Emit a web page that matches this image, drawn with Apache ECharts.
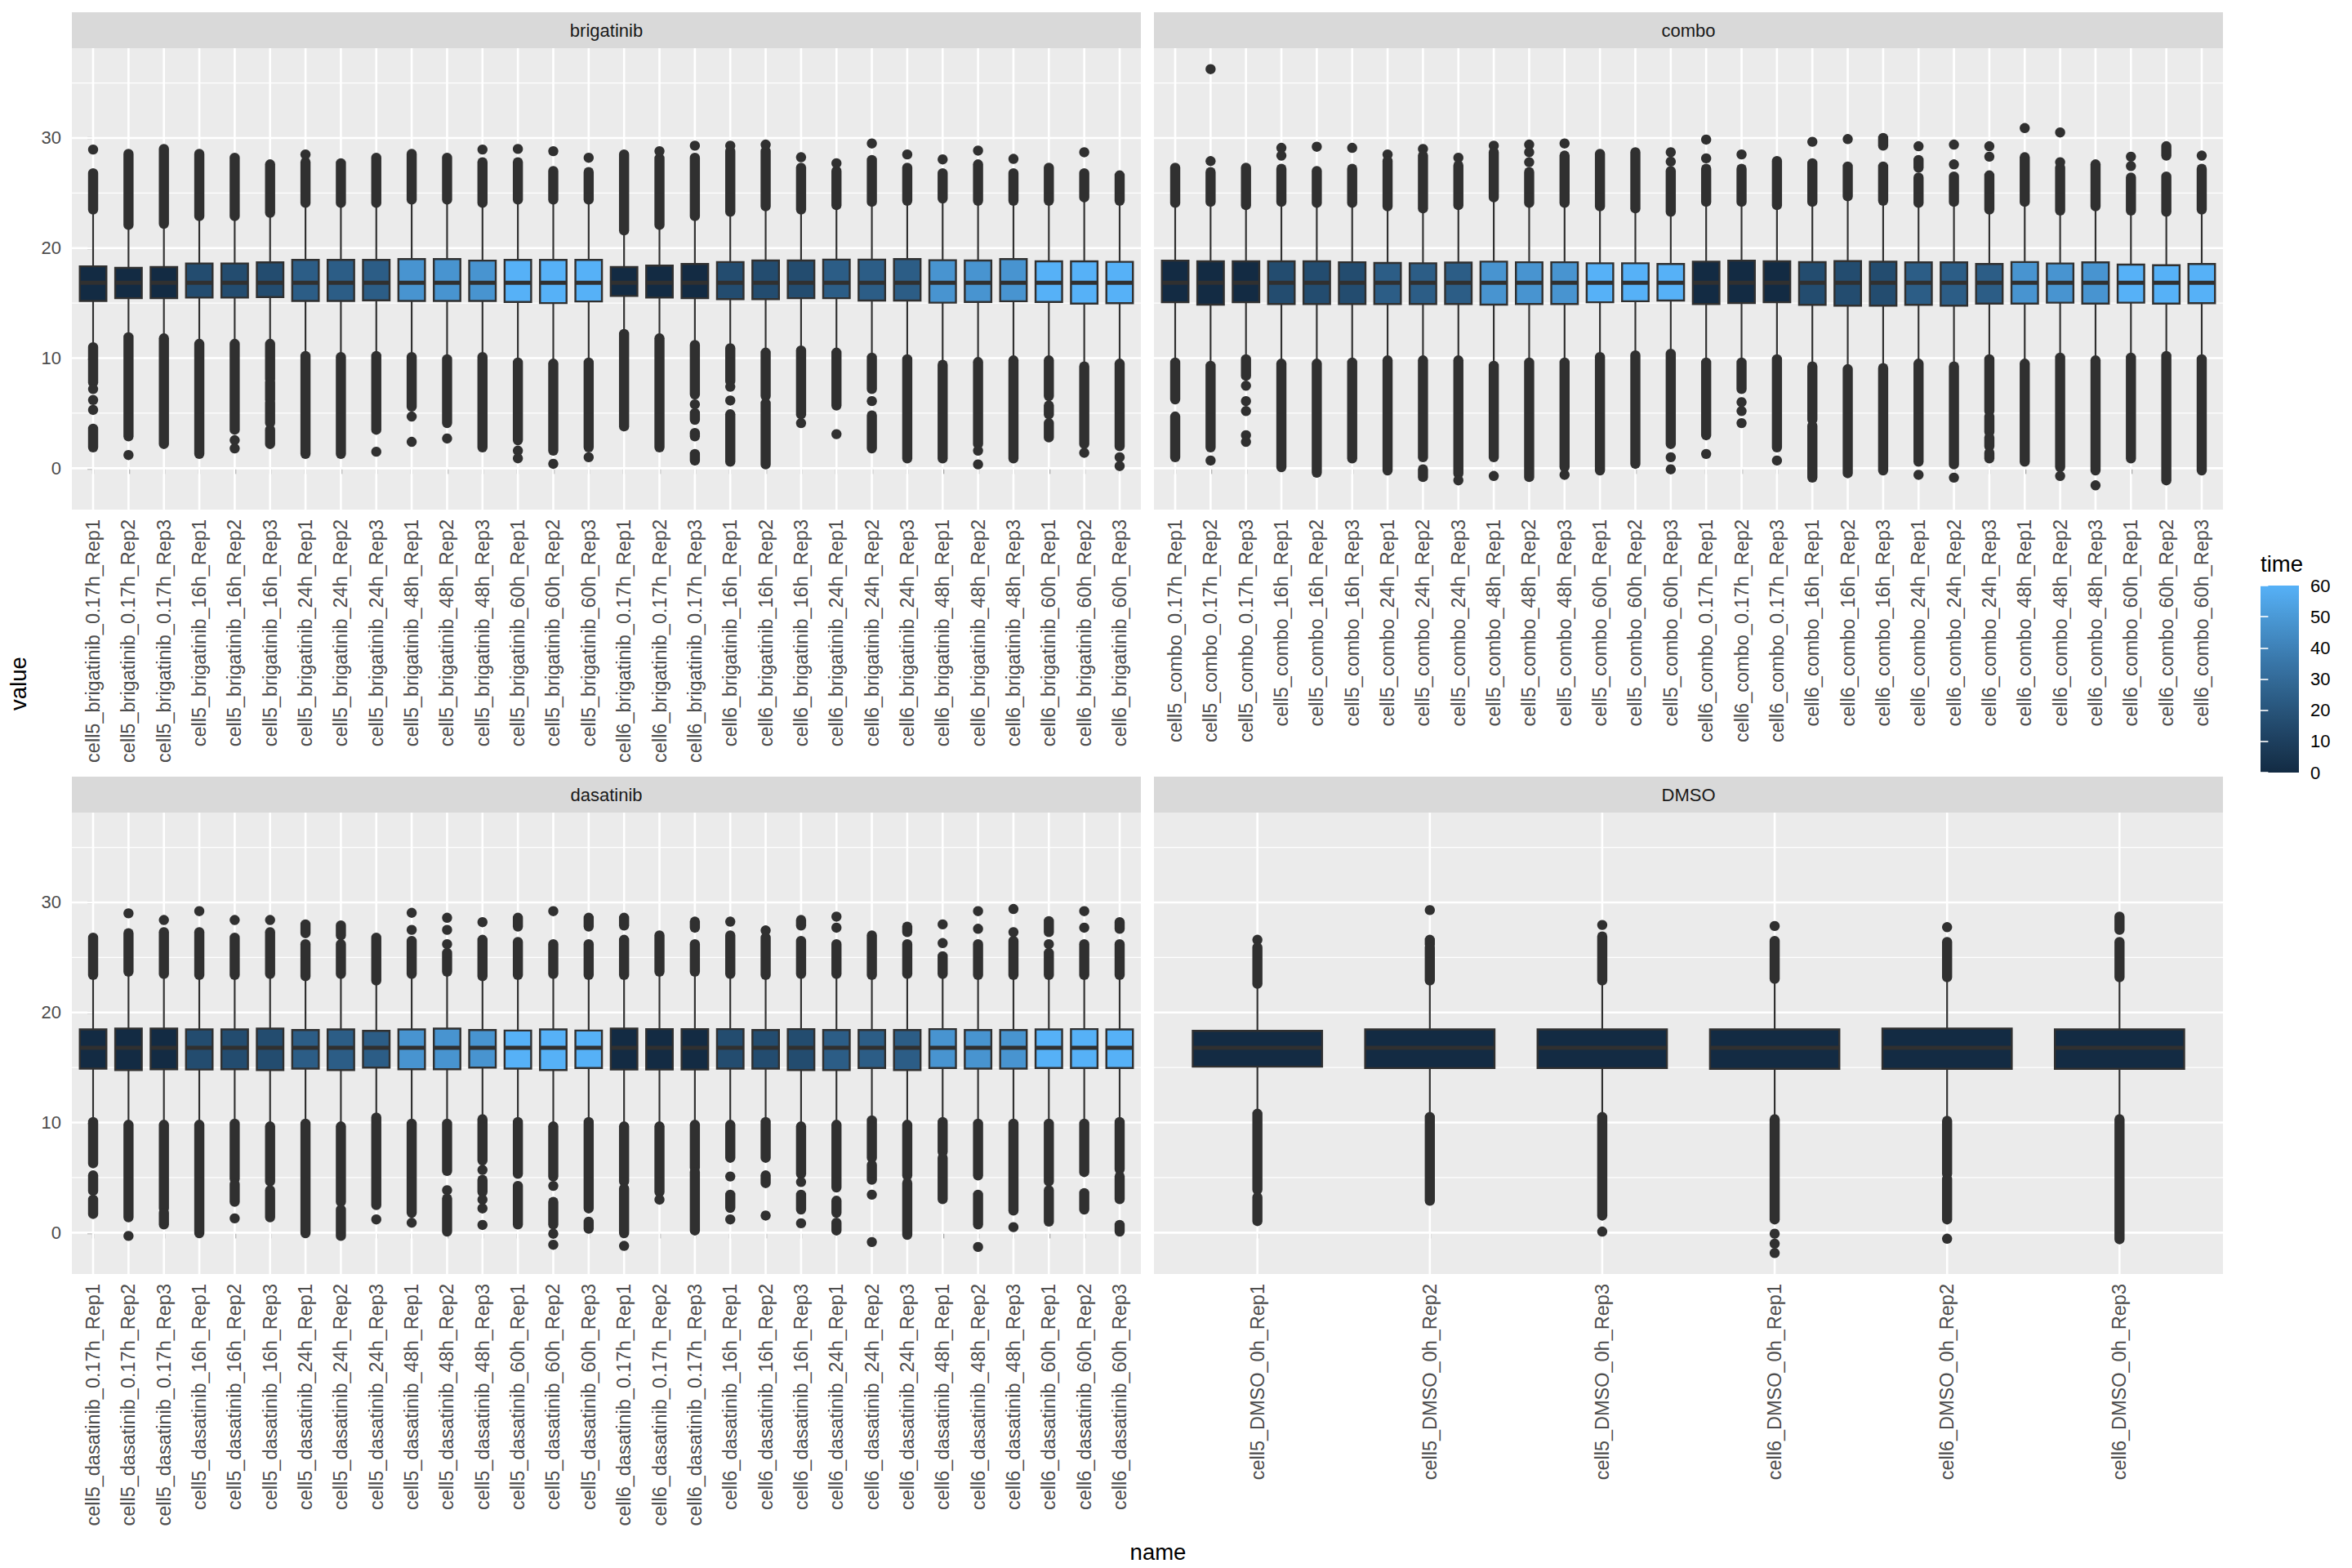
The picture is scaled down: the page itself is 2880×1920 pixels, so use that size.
<!DOCTYPE html>
<html><head><meta charset="utf-8">
<script src="https://cdn.jsdelivr.net/npm/echarts@6/dist/echarts.min.js"></script>
<style>html,body{margin:0;padding:0;background:#fff}#c{width:2880px;height:1920px}</style>
</head><body><div id="c"></div><script>
// ---------------- DATA ----------------
const brigNames = ['cell5_brigatinib_0.17h_Rep1','cell5_brigatinib_0.17h_Rep2','cell5_brigatinib_0.17h_Rep3','cell5_brigatinib_16h_Rep1','cell5_brigatinib_16h_Rep2','cell5_brigatinib_16h_Rep3','cell5_brigatinib_24h_Rep1','cell5_brigatinib_24h_Rep2','cell5_brigatinib_24h_Rep3','cell5_brigatinib_48h_Rep1','cell5_brigatinib_48h_Rep2','cell5_brigatinib_48h_Rep3','cell5_brigatinib_60h_Rep1','cell5_brigatinib_60h_Rep2','cell5_brigatinib_60h_Rep3','cell6_brigatinib_0.17h_Rep1','cell6_brigatinib_0.17h_Rep2','cell6_brigatinib_0.17h_Rep3','cell6_brigatinib_16h_Rep1','cell6_brigatinib_16h_Rep2','cell6_brigatinib_16h_Rep3','cell6_brigatinib_24h_Rep1','cell6_brigatinib_24h_Rep2','cell6_brigatinib_24h_Rep3','cell6_brigatinib_48h_Rep1','cell6_brigatinib_48h_Rep2','cell6_brigatinib_48h_Rep3','cell6_brigatinib_60h_Rep1','cell6_brigatinib_60h_Rep2','cell6_brigatinib_60h_Rep3'];
const comboNames = ['cell5_combo_0.17h_Rep1','cell5_combo_0.17h_Rep2','cell5_combo_0.17h_Rep3','cell5_combo_16h_Rep1','cell5_combo_16h_Rep2','cell5_combo_16h_Rep3','cell5_combo_24h_Rep1','cell5_combo_24h_Rep2','cell5_combo_24h_Rep3','cell5_combo_48h_Rep1','cell5_combo_48h_Rep2','cell5_combo_48h_Rep3','cell5_combo_60h_Rep1','cell5_combo_60h_Rep2','cell5_combo_60h_Rep3','cell6_combo_0.17h_Rep1','cell6_combo_0.17h_Rep2','cell6_combo_0.17h_Rep3','cell6_combo_16h_Rep1','cell6_combo_16h_Rep2','cell6_combo_16h_Rep3','cell6_combo_24h_Rep1','cell6_combo_24h_Rep2','cell6_combo_24h_Rep3','cell6_combo_48h_Rep1','cell6_combo_48h_Rep2','cell6_combo_48h_Rep3','cell6_combo_60h_Rep1','cell6_combo_60h_Rep2','cell6_combo_60h_Rep3'];
const dasaNames = ['cell5_dasatinib_0.17h_Rep1','cell5_dasatinib_0.17h_Rep2','cell5_dasatinib_0.17h_Rep3','cell5_dasatinib_16h_Rep1','cell5_dasatinib_16h_Rep2','cell5_dasatinib_16h_Rep3','cell5_dasatinib_24h_Rep1','cell5_dasatinib_24h_Rep2','cell5_dasatinib_24h_Rep3','cell5_dasatinib_48h_Rep1','cell5_dasatinib_48h_Rep2','cell5_dasatinib_48h_Rep3','cell5_dasatinib_60h_Rep1','cell5_dasatinib_60h_Rep2','cell5_dasatinib_60h_Rep3','cell6_dasatinib_0.17h_Rep1','cell6_dasatinib_0.17h_Rep2','cell6_dasatinib_0.17h_Rep3','cell6_dasatinib_16h_Rep1','cell6_dasatinib_16h_Rep2','cell6_dasatinib_16h_Rep3','cell6_dasatinib_24h_Rep1','cell6_dasatinib_24h_Rep2','cell6_dasatinib_24h_Rep3','cell6_dasatinib_48h_Rep1','cell6_dasatinib_48h_Rep2','cell6_dasatinib_48h_Rep3','cell6_dasatinib_60h_Rep1','cell6_dasatinib_60h_Rep2','cell6_dasatinib_60h_Rep3'];
const dmsoNames = ['cell5_DMSO_0h_Rep1','cell5_DMSO_0h_Rep2','cell5_DMSO_0h_Rep3','cell6_DMSO_0h_Rep1','cell6_DMSO_0h_Rep2','cell6_DMSO_0h_Rep3'];

const drugTime = [0.17,0.17,0.17,16,16,16,24,24,24,48,48,48,60,60,60,0.17,0.17,0.17,16,16,16,24,24,24,48,48,48,60,60,60];
const dmsoTime = [0,0,0,0,0,0];

// brigatinib
const brigLo  = [11.2,12.1,12.0,11.5,11.5,11.5,10.4,10.3,10.4,10.3,10.1,10.3,9.8,9.7,9.8,12.4,12.0,11.4,11.1,10.7,10.9,10.7,10.25,10.1,9.6,9.85,10.0,10.0,9.45,9.7];
const brigQ1  = [15.2,15.45,15.45,15.5,15.5,15.55,15.2,15.2,15.25,15.2,15.2,15.2,15.1,15.0,15.15,15.65,15.5,15.45,15.36,15.36,15.45,15.45,15.23,15.23,15.04,15.1,15.17,15.1,14.96,14.99];
const brigMed = [16.85,16.85,16.85,16.85,16.85,16.85,16.85,16.85,16.85,16.85,16.85,16.85,16.85,16.85,16.85,16.85,16.85,16.85,16.85,16.85,16.85,16.85,16.85,16.85,16.85,16.85,16.85,16.85,16.85,16.85];
const brigQ3  = [18.34,18.2,18.28,18.6,18.6,18.7,18.92,18.92,18.92,19.0,19.0,18.86,18.92,18.92,18.92,18.28,18.4,18.55,18.73,18.87,18.87,18.95,18.95,19.0,18.9,18.87,19.0,18.8,18.8,18.75];
const brigHi  = [23.3,21.9,22.0,22.7,22.7,23.0,23.9,23.9,23.9,24.2,24.2,23.9,24.2,24.2,24.2,21.4,21.9,22.7,23.1,23.6,23.3,23.7,24.0,24.1,24.3,24.1,24.1,24.1,24.4,24.1];
// outliers: [a,b] = dense run of points from a to b, [v] = single point
const brigOut = [
 [[23.5,26.8],[28.95],[7.8,11.0],[7.2],[6.2],[5.3],[1.9,3.6]],
 [[22.1,28.55],[2.9,11.9],[1.2]],
 [[22.2,29.0],[2.2,11.8]],
 [[22.9,28.55],[1.3,11.3]],
 [[22.9,28.2],[3.5,11.3],[2.55],[1.8]],
 [[23.2,27.6],[8.1,11.3],[6.2,7.8],[4.1,5.9],[2.2,3.5]],
 [[24.1,27.8],[28.5],[1.3,10.2]],
 [[24.1,27.7],[1.3,10.1]],
 [[24.1,28.2],[3.5,10.2],[1.5]],
 [[24.4,28.55],[5.6,10.1],[4.7],[2.4]],
 [[24.4,28.2],[4.1,9.9],[2.7]],
 [[24.1,27.8],[28.95],[1.9,10.1]],
 [[24.4,27.8],[29.0],[2.55,9.6],[1.6],[0.9]],
 [[24.4,27.0],[28.8],[1.6,9.5],[0.4]],
 [[24.4,26.9],[28.2],[1.9,9.6],[1.0]],
 [[21.6,28.5],[3.8,12.2]],
 [[22.1,28.15],[28.8],[1.9,11.8]],
 [[22.9,28.2],[29.3],[6.7,11.2],[5.8],[4.4,5.0],[2.9,3.2],[0.7,1.3]],
 [[23.3,28.8],[29.3],[7.9,10.9],[7.4],[6.15],[0.6,4.9]],
 [[23.8,28.8],[29.4],[6.55,10.5],[0.35,5.9]],
 [[23.5,27.3],[28.25],[4.9,10.7],[4.1]],
 [[23.9,27.0],[27.7],[5.7,10.5],[3.1]],
 [[24.2,28.0],[29.5],[7.2,10.05],[6.1],[1.8,4.8]],
 [[24.3,27.3],[28.5],[0.9,9.9]],
 [[24.5,26.8],[28.05],[0.9,9.4]],
 [[24.3,27.6],[28.85],[2.2,9.65],[1.6],[0.35]],
 [[24.3,26.8],[28.1],[0.9,9.8]],
 [[24.3,27.3],[6.55,9.8],[4.9,5.7],[2.8,4.1]],
 [[24.6,26.8],[28.7],[2.2,9.25],[1.4]],
 [[24.3,26.6],[2.0,9.5],[1.0],[0.2]]
];

// combo
const comboLo  = [9.8,9.5,10.1,9.7,9.7,9.8,10.0,10.0,10.0,9.5,9.8,9.8,10.3,10.45,10.6,9.8,9.8,10.1,9.45,9.2,9.3,9.7,9.45,10.1,9.7,10.25,10.0,10.25,10.4,10.1];
const comboQ1  = [15.08,14.86,15.08,14.92,14.92,14.92,14.92,14.92,14.92,14.86,14.92,14.92,15.08,15.17,15.23,14.92,15.0,15.08,14.85,14.77,14.77,14.85,14.77,14.96,14.96,15.04,14.96,15.04,14.96,14.99];
const comboMed = [16.85,16.85,16.85,16.85,16.85,16.85,16.85,16.85,16.85,16.85,16.85,16.85,16.85,16.85,16.85,16.85,16.85,16.85,16.85,16.85,16.85,16.85,16.85,16.85,16.85,16.85,16.85,16.85,16.85,16.85];
const comboQ3  = [18.86,18.8,18.8,18.8,18.8,18.71,18.65,18.62,18.68,18.77,18.71,18.71,18.62,18.62,18.55,18.77,18.86,18.8,18.72,18.81,18.76,18.7,18.7,18.55,18.73,18.6,18.7,18.5,18.44,18.55];
const comboHi  = [23.9,24.0,23.7,24.0,23.9,23.9,23.6,23.4,23.7,24.4,23.9,23.9,23.6,23.4,23.1,24.0,24.0,23.7,24.0,24.5,24.1,23.9,24.0,23.3,24.0,23.2,23.6,23.2,23.1,23.3];
const comboOut = [
 [[24.1,27.3],[6.25,9.6],[1.0,4.7]],
 [[36.25],[27.9],[24.2,26.9],[1.9,9.3],[0.7]],
 [[23.9,27.3],[8.4,9.9],[7.5],[6.1],[5.2],[3.0],[2.4]],
 [[29.1],[28.4],[24.2,27.2],[0.1,9.5]],
 [[29.2],[24.1,27.0],[-0.4,9.5]],
 [[29.1],[24.1,27.2],[0.9,9.6]],
 [[28.5],[23.8,27.9],[-0.2,9.8]],
 [[29.0],[23.6,28.4],[1.0,9.8],[-0.8,-0.1]],
 [[28.2],[23.9,27.5],[-0.5,9.8],[-1.1]],
 [[29.3],[24.6,28.7],[1.0,9.3],[-0.7]],
 [[29.4],[28.7],[27.8],[24.1,26.9],[-0.8,9.6]],
 [[29.5],[24.1,28.4],[0.1,9.6],[-0.6]],
 [[23.8,28.55],[-0.2,10.1]],
 [[23.6,28.7],[0.4,10.25]],
 [[28.7],[27.85],[23.3,27.0],[2.2,10.4],[1.0],[-0.1]],
 [[29.85],[28.15],[24.2,27.2],[3.0,9.6],[1.3]],
 [[28.5],[24.2,27.2],[7.2,9.6],[6.0],[5.2],[4.1]],
 [[23.9,27.9],[1.9,9.9],[0.7]],
 [[29.65],[24.2,27.7],[4.4,9.25],[-0.85,3.85]],
 [[29.9],[24.7,27.4],[-0.45,9.0]],
 [[29.3,30.0],[24.3,27.4],[-0.2,9.1]],
 [[29.25],[27.3,28.0],[24.1,26.4],[0.6,9.5],[-0.6]],
 [[29.4],[27.6],[24.2,26.5],[0.35,9.25],[-0.85]],
 [[29.25],[28.3],[23.5,26.6],[5.2,9.9],[3.3,4.7],[2.0,2.8],[0.9,1.4]],
 [[30.9],[24.2,28.25],[0.6,9.5]],
 [[30.5],[27.8],[23.4,27.3],[0.1,10.05],[-0.7]],
 [[23.8,27.6],[-0.2,9.8],[-1.55]],
 [[28.3],[27.45],[23.4,26.4],[0.9,10.05]],
 [[28.4,29.25],[23.3,26.5],[-1.1,10.2]],
 [[28.4],[23.5,27.2],[-0.2,9.9]]
];

// dasatinib
const dasaLo  = [10.25,10.0,10.0,10.0,10.1,9.85,10.1,9.85,10.65,10.1,10.1,10.5,10.25,9.85,10.25,9.85,9.85,10.0,10.0,10.25,9.85,10.0,10.4,10.0,10.25,10.1,10.1,10.1,10.1,10.25];
const dasaQ1  = [14.9,14.77,14.85,14.82,14.85,14.77,14.9,14.77,14.99,14.85,14.85,14.99,14.9,14.77,14.96,14.82,14.82,14.82,14.9,14.9,14.77,14.77,14.96,14.77,14.96,14.9,14.9,14.96,14.96,14.96];
const dasaMed = [16.8,16.8,16.8,16.8,16.8,16.8,16.8,16.8,16.8,16.8,16.8,16.8,16.8,16.8,16.8,16.8,16.8,16.8,16.8,16.8,16.8,16.8,16.8,16.8,16.8,16.8,16.8,16.8,16.8,16.8];
const dasaQ3  = [18.46,18.54,18.54,18.46,18.46,18.54,18.41,18.46,18.33,18.46,18.54,18.41,18.36,18.46,18.36,18.54,18.49,18.49,18.49,18.41,18.49,18.41,18.41,18.41,18.49,18.41,18.41,18.46,18.49,18.46];
const dasaHi  = [23.2,23.5,23.3,23.2,23.2,23.3,23.1,23.3,22.7,23.3,23.5,23.1,23.2,23.3,23.2,23.2,23.5,23.5,23.3,23.2,23.3,23.3,23.2,23.3,23.3,23.2,23.2,23.2,23.2,23.2];
const dasaOut = [
 [[23.4,26.8],[6.3,10.05],[3.8,5.2],[1.7,3.0]],
 [[29.0],[23.7,27.2],[1.4,9.8],[-0.3]],
 [[28.4],[23.5,27.3],[2.2,9.8],[0.75,1.8]],
 [[29.2],[23.4,27.3],[-0.05,9.8]],
 [[28.4],[23.4,26.8],[4.9,9.9],[2.8,4.4],[1.3]],
 [[28.4],[23.5,27.3],[4.65,9.65],[1.4,3.85]],
 [[27.2,28.0],[23.3,26.2],[-0.05,9.9]],
 [[27.0,27.9],[23.5,26.2],[2.8,9.65],[-0.3,2.1]],
 [[22.9,26.8],[2.5,10.45],[1.2]],
 [[29.05],[27.5],[23.5,26.5],[1.8,9.9],[0.9]],
 [[28.6],[27.5],[26.2],[23.7,25.4],[5.6,9.9],[3.85],[0.1,3.1]],
 [[28.2],[23.3,26.6],[6.55,10.3],[5.7],[3.7,4.8],[3.0],[2.2],[0.7]],
 [[27.8,28.6],[23.4,26.4],[5.35,10.05],[0.75,4.25]],
 [[29.2],[23.5,26.2],[5.1,9.65],[4.25],[0.75,2.8],[-0.1],[-1.1]],
 [[27.8,28.6],[23.4,26.2],[2.2,10.05],[0.35,1.0]],
 [[27.9,28.6],[23.4,26.6],[4.65,9.65],[-0.05,4.0],[-1.2]],
 [[23.7,27.0],[3.7,9.65],[3.0]],
 [[27.7,28.25],[23.7,26.2],[5.9,9.8],[0.2,5.5]],
 [[28.25],[23.5,27.0],[6.8,9.8],[5.1],[2.25,3.45],[1.2]],
 [[27.45],[23.4,26.8],[6.8,10.05],[4.5,5.2],[1.55]],
 [[27.9,28.4],[23.5,26.5],[5.35,9.65],[4.6],[2.1,3.45],[0.85]],
 [[28.7],[27.7],[23.5,26.2],[4.1,9.8],[1.8,2.9],[0.2,0.9]],
 [[23.4,27.0],[6.8,10.2],[4.8,6.15],[3.45],[-0.85]],
 [[27.3,27.8],[23.5,26.2],[5.2,9.8],[-0.2,4.5]],
 [[28.0],[26.3],[23.5,25.1],[7.35,10.05],[3.05,6.8]],
 [[29.2],[27.6],[23.4,26.2],[5.2,9.9],[0.75,3.45],[-1.3]],
 [[29.4],[27.3],[23.4,26.5],[2.0,9.9],[0.5]],
 [[27.3,28.3],[26.2],[23.4,25.4],[4.65,9.9],[1.0,3.85]],
 [[29.2],[27.7],[23.4,26.2],[5.5,9.9],[2.1,3.6]],
 [[27.6,28.2],[23.4,26.2],[5.75,10.05],[3.05,5.1],[0.1,0.7]]
];

// DMSO
const dmsoLo  = [11.0,10.7,10.7,10.5,10.35,10.5];
const dmsoQ1  = [15.08,14.95,14.95,14.88,14.88,14.88];
const dmsoMed = [16.8,16.8,16.8,16.8,16.8,16.8];
const dmsoQ3  = [18.33,18.46,18.46,18.46,18.53,18.46];
const dmsoHi  = [22.4,22.7,22.7,22.85,23.0,23.0];
const dmsoOut = [
 [[26.6],[22.6,25.9],[3.9,10.8],[1.05,3.2]],
 [[29.3],[26.2,26.6],[22.9,25.9],[2.9,10.5]],
 [[27.95],[22.9,26.9],[1.55,10.5],[0.1]],
 [[27.85],[23.05,26.5],[1.2,10.3],[-0.1],[-1.0],[-1.85]],
 [[27.75],[23.2,26.4],[5.35,10.15],[1.2,4.85],[-0.55]],
 [[27.5,28.7],[23.2,26.4],[-0.6,10.3]]
];

const yMajor = [0,10,20,30];
const yMinor = [5,15,25,35];

// ---------------- STYLE / LAYOUT ----------------
const FONT = '"Liberation Sans", Arial, Helvetica, sans-serif';
const EDGE = '#303030';
const BOX_W = 0.75;
const DOT_R = 6.2;
const PW = 1309, PH = 565, STRIP = 44;
const panels = [
  {title:'brigatinib', names:brigNames, time:drugTime, lo:brigLo, q1:brigQ1, med:brigMed, q3:brigQ3, hi:brigHi, out:brigOut, left:88,   top:59,  yLab:true},
  {title:'combo',      names:comboNames, time:drugTime, lo:comboLo, q1:comboQ1, med:comboMed, q3:comboQ3, hi:comboHi, out:comboOut, left:1413, top:59,  yLab:false},
  {title:'dasatinib',  names:dasaNames, time:drugTime, lo:dasaLo, q1:dasaQ1, med:dasaMed, q3:dasaQ3, hi:dasaHi, out:dasaOut, left:88,   top:995, yLab:true},
  {title:'DMSO',       names:dmsoNames, time:dmsoTime, lo:dmsoLo, q1:dmsoQ1, med:dmsoMed, q3:dmsoQ3, hi:dmsoHi, out:dmsoOut, left:1413, top:995, yLab:false}
];

// y range like ggplot: data range expanded by 5%
const allV = [];
panels.forEach(p => { allV.push(...p.lo, ...p.hi); p.out.forEach(l => l.forEach(o => allV.push(...o))); });
const dMin = Math.min(...allV), dMax = Math.max(...allV);
const Y_MIN = dMin - 0.05*(dMax-dMin), Y_MAX = dMax + 0.05*(dMax-dMin);

// colour scale: ggplot default continuous (#132B43 -> #56B1F7, Lab interpolation)
const allT = panels.flatMap(p => p.time);
const T_MIN = Math.min(...allT), T_MAX = Math.max(...allT);
function hex2rgb(h){return [1,3,5].map(i=>parseInt(h.substr(i,2),16)/255);}
const lin = c => c<=0.04045 ? c/12.92 : Math.pow((c+0.055)/1.055,2.4);
const delin = c => c<=0.0031308 ? 12.92*c : 1.055*Math.pow(c,1/2.4)-0.055;
function rgb2lab(rgb){
  const [r,g,b]=rgb.map(lin);
  const x=(0.4124564*r+0.3575761*g+0.1804375*b)/0.95047, y=(0.2126729*r+0.7151522*g+0.0721750*b), z=(0.0193339*r+0.1191920*g+0.9503041*b)/1.08883;
  const f=t=>t>0.008856?Math.cbrt(t):7.787*t+16/116;
  const fx=f(x),fy=f(y),fz=f(z);
  return [116*fy-16,500*(fx-fy),200*(fy-fz)];
}
function lab2hex([L,a,b]){
  const fy=(L+16)/116, fx=fy+a/500, fz=fy-b/200;
  const fi=t=>t*t*t>0.008856?t*t*t:(t-16/116)/7.787;
  const x=fi(fx)*0.95047, y=fi(fy), z=fi(fz)*1.08883;
  const r=3.2404542*x-1.5371385*y-0.4985314*z, g=-0.9692660*x+1.8760108*y+0.0415560*z, bb=0.0556434*x-0.2040259*y+1.0572252*z;
  return '#'+[r,g,bb].map(c=>Math.round(Math.min(1,Math.max(0,delin(c)))*255).toString(16).padStart(2,'0')).join('');
}
const LAB_LO = rgb2lab(hex2rgb('#132B43')), LAB_HI = rgb2lab(hex2rgb('#56B1F7'));
function timeColor(t){
  const f=(t-T_MIN)/(T_MAX-T_MIN);
  return lab2hex(LAB_LO.map((v,k)=>v+(LAB_HI[k]-v)*f));
}

// ---------------- OPTION ----------------
const grids=[], xAxes=[], yAxes=[], series=[];
panels.forEach((p,gi)=>{
  const n=p.names.length;
  const idx=p.names.map((_,i)=>i);
  grids.push({left:p.left, top:p.top, width:PW, height:PH, show:true, backgroundColor:'#EBEBEB', borderWidth:0});
  xAxes.push({gridIndex:gi, type:'value', min:-0.6, max:n-1+0.6,
    axisLine:{show:false}, splitLine:{show:false},
    axisTick:{show:true, customValues:idx, length:7, lineStyle:{color:'#333333', width:2.2}},
    axisLabel:{show:true, customValues:idx, rotate:90, margin:12, color:'#4D4D4D', fontSize:23.5, fontFamily:FONT,
      formatter:v=>p.names[Math.round(v)]}});
  yAxes.push({gridIndex:gi, type:'value', min:Y_MIN, max:Y_MAX,
    axisLine:{show:false}, splitLine:{show:false},
    axisTick:{show:p.yLab, customValues:yMajor, length:7, lineStyle:{color:'#333333', width:2.2}},
    axisLabel:{show:p.yLab, customValues:yMajor, margin:13, color:'#4D4D4D', fontSize:22, fontFamily:FONT}});
  // grid lines
  series.push({type:'custom', xAxisIndex:gi, yAxisIndex:gi, z:1, silent:true, data:[[0,16]],
    renderItem(params, api){
      const cs=params.coordSys, ch=[];
      yMinor.forEach(v=>{const y=api.coord([0,v])[1]; if(y>=cs.y&&y<=cs.y+cs.height) ch.push({type:'line',shape:{x1:cs.x,y1:y,x2:cs.x+cs.width,y2:y},style:{stroke:'#FFFFFF',lineWidth:1.3}});});
      yMajor.forEach(v=>{const y=api.coord([0,v])[1]; ch.push({type:'line',shape:{x1:cs.x,y1:y,x2:cs.x+cs.width,y2:y},style:{stroke:'#FFFFFF',lineWidth:2.6}});});
      idx.forEach(i=>{const x=api.coord([i,0])[0]; ch.push({type:'line',shape:{x1:x,y1:cs.y,x2:x,y2:cs.y+cs.height},style:{stroke:'#FFFFFF',lineWidth:2.6}});});
      return {type:'group', children:ch};
    }});
  // outliers
  const od=[];
  p.out.forEach((l,i)=>l.forEach(o=>od.push([i,o[0],o.length>1?o[1]:o[0]])));
  series.push({type:'custom', xAxisIndex:gi, yAxisIndex:gi, z:3, silent:true, data:od, encode:{x:0,y:[1,2]},
    renderItem(params, api){
      const x=api.value(0), a=api.coord([x,api.value(1)]), b=api.coord([x,api.value(2)]);
      if (api.value(1)===api.value(2)) return {type:'circle', shape:{cx:a[0],cy:a[1],r:DOT_R}, style:{fill:EDGE}};
      return {type:'line', shape:{x1:a[0],y1:a[1],x2:b[0],y2:b[1]}, style:{stroke:EDGE, lineWidth:2*DOT_R, lineCap:'round'}};
    }});
  // boxes
  const bd=idx.map(i=>[i,p.lo[i],p.q1[i],p.med[i],p.q3[i],p.hi[i],p.time[i]]);
  series.push({type:'custom', xAxisIndex:gi, yAxisIndex:gi, z:4, silent:true, data:bd, encode:{x:0,y:[1,2,3,4,5]},
    renderItem(params, api){
      const x=api.value(0), c=v=>api.coord([x,v]);
      const hw=api.size([BOX_W,0])[0]/2;
      const lo=c(api.value(1)), q1=c(api.value(2)), md=c(api.value(3)), q3=c(api.value(4)), hi=c(api.value(5));
      return {type:'group', children:[
        {type:'line', shape:{x1:lo[0],y1:lo[1],x2:q1[0],y2:q1[1]}, style:{stroke:EDGE,lineWidth:2.2}},
        {type:'line', shape:{x1:q3[0],y1:q3[1],x2:hi[0],y2:hi[1]}, style:{stroke:EDGE,lineWidth:2.2}},
        {type:'rect', shape:{x:q3[0]-hw,y:q3[1],width:2*hw,height:q1[1]-q3[1]}, style:{fill:timeColor(api.value(6)),stroke:EDGE,lineWidth:2.4}},
        {type:'line', shape:{x1:md[0]-hw,y1:md[1],x2:md[0]+hw,y2:md[1]}, style:{stroke:EDGE,lineWidth:5}}
      ]};
    }});
});

// colour bar legend (grid 4)
const LG = 4;
grids.push({left:2768, top:717, width:47, height:229, show:false});
xAxes.push({gridIndex:LG, type:'value', min:0, max:1, show:false});
yAxes.push({gridIndex:LG, type:'value', min:T_MIN, max:T_MAX, interval:10, position:'right', z:10,
  axisLine:{show:false}, splitLine:{show:false},
  axisTick:{show:true, inside:true, length:9.4, lineStyle:{color:'#FFFFFF', width:1.6}},
  axisLabel:{show:true, margin:14, color:'#000000', fontSize:22, fontFamily:FONT}});
yAxes.push({gridIndex:LG, type:'value', min:T_MIN, max:T_MAX, interval:10, position:'left', z:10,
  axisLine:{show:false}, splitLine:{show:false}, axisLabel:{show:false},
  axisTick:{show:true, inside:true, length:9.4, lineStyle:{color:'#FFFFFF', width:1.6}}});
series.push({type:'custom', xAxisIndex:LG, yAxisIndex:4, z:2, silent:true, data:[[0,T_MIN,T_MAX]], encode:{x:0,y:[1,2]},
  renderItem(params, api){
    const top=api.coord([0,api.value(2)]), bot=api.coord([1,api.value(1)]);
    const stops=[];
    for(let k=0;k<=24;k++){const t=T_MIN+(T_MAX-T_MIN)*k/24; stops.push({offset:1-k/24, color:timeColor(t)});}
    stops.reverse();
    return {type:'rect', shape:{x:top[0],y:top[1],width:bot[0]-top[0],height:bot[1]-top[1]},
      style:{fill:new echarts.graphic.LinearGradient(0,0,0,1,stops)}};
  }});

const graphic=[];
panels.forEach(p=>{
  graphic.push({type:'rect', shape:{x:p.left,y:p.top-STRIP,width:PW,height:STRIP}, style:{fill:'#D9D9D9'}, silent:true});
  graphic.push({type:'text', x:p.left+PW/2, y:p.top-STRIP/2, silent:true,
    style:{text:p.title, fill:'#1A1A1A', fontSize:22, fontFamily:FONT, align:'center', verticalAlign:'middle', textAlign:'center', textVerticalAlign:'middle'}});
});
graphic.push({type:'text', x:22, y:837, rotation:Math.PI/2, silent:true,
  style:{text:'value', fill:'#000', fontSize:27.5, fontFamily:FONT, align:'center', verticalAlign:'middle', textAlign:'center', textVerticalAlign:'middle'}});
graphic.push({type:'text', x:1418, y:1900, silent:true,
  style:{text:'name', fill:'#000', fontSize:27.5, fontFamily:FONT, align:'center', verticalAlign:'middle', textAlign:'center', textVerticalAlign:'middle'}});
graphic.push({type:'text', x:2768, y:690, silent:true,
  style:{text:'time', fill:'#000', fontSize:27.5, fontFamily:FONT, align:'left', verticalAlign:'middle', textAlign:'left', textVerticalAlign:'middle'}});

const chart = echarts.init(document.getElementById('c'), null, {renderer:'svg', width:2880, height:1920});
chart.setOption({backgroundColor:'#FFFFFF', animation:false, grid:grids, xAxis:xAxes, yAxis:yAxes, series, graphic});
</script></body></html>
